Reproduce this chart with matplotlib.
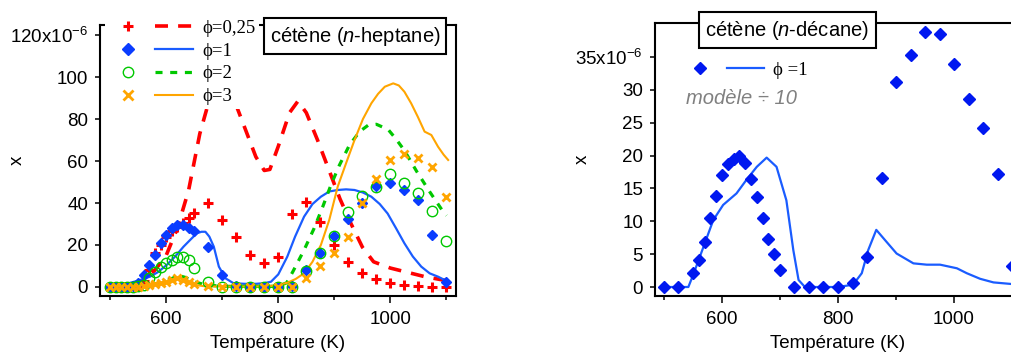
"""Cetene mole fraction vs temperature: n-heptane and n-decane panels."""

import matplotlib

matplotlib.use("Agg")

import matplotlib.pyplot as plt
from matplotlib.lines import Line2D
from matplotlib.legend_handler import HandlerTuple
from matplotlib.ticker import FuncFormatter, FixedLocator


plt.rcParams["font.family"] = "Liberation Sans"
plt.rcParams["mathtext.fontset"] = "custom"
plt.rcParams["mathtext.rm"] = "Liberation Sans"
plt.rcParams["mathtext.it"] = "Liberation Sans:italic"
plt.rcParams["mathtext.default"] = "regular"

# ---- n-heptane panel: experiments (x 1e-6) ----
T_EXP = [500, 510, 520, 530, 540, 550, 560, 570, 580, 590, 600, 610, 620, 630, 640, 650,
         675, 700, 725, 750, 775, 800, 825, 850, 875, 900, 925, 950, 975, 1000, 1025,
         1050, 1075, 1100]
phi1_exp = [0, 0, 0, 0, 0.5, 2, 5.7, 10.5, 15, 20.8, 24.8, 27.9, 29.3, 29.5, 28, 26.5,
            19.2, 5.8, 0.5, 0, 0, 0.2, 0.5, 8, 16, 24.3, 32.4, 40, 48, 49.4, 46,
            41.5, 24.8, 2.4]
phi2_exp = [0, 0, 0, 0, 0, 0.3, 1, 4.5, 7, 9.7, 11.6, 12.9, 14.4, 14.4, 12.9, 8.9,
            2.5, 0.2, 0.2, 0.1, 0.1, 0, 0, 7.8, 16, 24.3, 35.9, 43.3, 47.8, 53.8, 49.7,
            44.6, 36.3, 22]
phi3_exp = [0, 0, 0, 0, 0, 0.2, 0.5, 0.8, 1.2, 1.8, 2.5, 3.5, 4.5, 3.5, 2.5, 1.5,
            0.3, 0, 0, 0, 0, 0, 0, 4.1, 10, 16, 24, 40.2, 51.3, 60.5, 63.3,
            61.3, 57, 43]

T_EXP_025 = [500, 525, 550, 560, 570, 580, 590, 600, 610, 620, 630, 640, 650, 675, 700,
             725, 750, 775, 800, 825, 850, 875, 900, 925, 950, 975, 1000, 1025, 1050,
             1075, 1100]
phi025_exp = [0, 0, 0.5, 3, 8, 16, 20, 24, 26.5, 28.5, 30.5, 32.7, 35.4, 40.2, 32,
              24, 15.2, 11.3, 14.4, 35, 40.6, 31, 20, 11.7, 6.8, 4, 2, 1, 0.5,
              0.2, 0]

# ---- n-heptane panel: model ----
T_MOD_025 = [500, 540, 560, 580, 600, 620, 640, 660, 680, 700, 720, 740, 760, 775, 785,
             800, 820, 835, 850, 870, 890, 910, 930, 950, 970, 1000, 1030, 1060, 1100]
phi025_mod = [0, 0.5, 3, 8, 15, 28, 46, 73, 92, 97, 90, 76, 62, 55.5, 56,
              67, 83, 88.5, 83, 70, 56, 42, 30, 19, 12, 9, 7, 5, 3]

T_MOD_1 = [500, 520, 536, 550, 571, 585, 601, 616, 631, 645, 655, 663, 670, 677, 685,
           694, 706, 720, 740, 760, 775, 787, 800, 816, 830, 846, 861, 876, 891, 906,
           921, 936, 951, 966, 981, 995, 1010, 1025, 1040, 1055, 1070, 1085, 1103]
phi1_mod = [0.3, 0.5, 2, 3, 4.9, 7, 10.5, 14.5, 19.2, 23, 25.6, 26.3, 26.3, 24, 19.2,
            9.7, 4.1, 1.8, 1.5, 1.5, 1.8, 2.5, 6, 14.4, 24, 33.5, 39.5, 43, 45.5, 46.2,
            46.5, 46.2, 45, 43, 39.5, 35, 28, 20.8, 14.5, 9.7, 6.5, 4.9, 2.5]

T_MOD_2 = [500, 560, 590, 610, 622, 635, 650, 670, 700, 750, 800, 815, 826, 846, 864,
           879, 894, 909, 927, 945, 960, 975, 996, 1010, 1025, 1047, 1070, 1094, 1100]
phi2_mod = [0, 0.5, 2, 4, 5.5, 4.5, 2.5, 1, 0.3, 0.3, 0.3, 2, 7.3, 17.6, 28,
            38, 48.6, 58, 67.6, 74, 77, 77.5, 75, 70.5, 65, 55, 45.4, 35.9, 34]

T_MOD_3 = [500, 560, 590, 610, 622, 635, 650, 670, 700, 750, 782, 800, 816, 831, 846,
           861, 876, 891, 906, 921, 936, 951, 966, 978, 990, 1005, 1015, 1025, 1037,
           1049, 1061, 1073, 1085, 1095, 1103]
phi3_mod = [0, 0.3, 1.5, 3, 4.5, 3, 1, 0.3, 0.2, 0.2, 0.3, 1, 2, 3.8, 6.5,
            12, 20, 32, 47.8, 59, 70, 80, 87.5, 92, 95.4, 97, 96, 93, 87.5,
            81, 74, 72.4, 66.8, 63, 60.5]

# ---- n-decane panel ----
T_DEC_EXP = [500, 525, 550, 560, 570, 580, 590, 600, 610, 620, 630, 640, 650, 660, 670,
             680, 690, 700, 725, 750, 775, 800, 825, 850, 875, 900, 925, 950, 975, 1000,
             1025, 1050, 1075, 1100]
dec_exp = [0, 0, 2.1, 4.1, 6.9, 10.45, 13.85, 17.05, 18.7, 19.5, 20.0, 18.9, 16.4, 13.65,
           10.55, 7.35, 5.0, 2.6, 0, 0, 0, 0, 0.66, 4.5, 16.6, 31.2, 35.4, 38.8, 38.45,
           33.9, 28.7, 24.2, 17.2, 3.25]

T_DEC_MOD = [500, 542, 551, 568, 585, 602, 625, 642, 660, 677, 694, 711, 723, 732, 743,
             800, 826, 841, 852, 866, 881, 901, 930, 953, 976, 1005, 1022, 1045, 1068, 1100]
dec_mod = [0, 0, 2, 6.1, 10.2, 12.5, 14.25, 16.3, 18.3, 19.7, 18.3, 13.2, 5.6, 1.07, 0,
           0, 0.35, 2.1, 5.6, 8.7, 7.15, 5.1, 3.6, 3.4, 3.4, 2.85, 2.1, 1.25, 0.7, 0.45]

HEPTANE_YTICKS = [0, 20, 40, 60, 80, 100, 120]
DECANE_YTICKS = [0, 5, 10, 15, 20, 25, 30, 35]
PHI = "\u03d5"

RED = "#ff0000"
BLUE_MK = "#0a3cff"
BLUE_LN = "#1a5cff"
BLUE_DEC = "#0018f0"
GREEN = "#00c800"
ORANGE = "#ffa500"

FS = 13.5
W, H = 1012, 353


def px_box(x0, y0, x1, y1):
    """Figure-fraction rect from pixel corners (top-left origin)."""
    return [x0 / W, 1 - y1 / H, (x1 - x0) / W, (y1 - y0) / H]


def style_axes(ax, yticks):
    for side in ["left", "bottom", "top", "right"]:
        ax.spines[side].set_linewidth(1.5)
    ax.xaxis.set_major_locator(FixedLocator([600, 800, 1000]))
    ax.xaxis.set_minor_locator(FixedLocator([500, 700, 900, 1100]))
    ax.yaxis.set_major_locator(FixedLocator(yticks))
    ax.tick_params(axis="x", which="major", direction="out", length=5, width=1.1,
                   labelsize=FS, pad=6, top=False)
    ax.tick_params(axis="x", which="minor", direction="out", length=3, width=1.1, top=False)
    ax.tick_params(axis="y", which="major", direction="out", length=3.6, width=1.1,
                   labelsize=FS, pad=5, right=False)
    top = yticks[-1]

    def fmt(v, _pos):
        if abs(v - top) < 1e-6:
            return f"{v:.0f}x10$^{{-6}}$"
        return f"{v:.0f}"

    ax.yaxis.set_major_formatter(FuncFormatter(fmt))
    ax.set_xlabel("Température (K)", fontsize=FS, labelpad=5)
    ax.set_ylabel("x", fontsize=FS)


def white_legend(ax, handles, labels, anchor, pad, handlelength, spacing=0.3):
    leg = ax.legend(handles, labels, handler_map={tuple: HandlerTuple(ndivide=None, pad=pad)},
                    loc="upper left", bbox_to_anchor=anchor, bbox_transform=fig.transFigure,
                    prop={"family": "Liberation Serif", "size": FS},
                    handlelength=handlelength, handletextpad=0.48, labelspacing=spacing,
                    borderpad=0.2, borderaxespad=0, frameon=True, fancybox=False,
                    framealpha=1)
    leg.get_frame().set_edgecolor("none")
    leg.get_frame().set_facecolor("white")
    return leg


fig = plt.figure(figsize=(W / 100, H / 100), dpi=100)

# ================= left: n-heptane =================
ax1 = fig.add_axes(px_box(100, 25, 456, 296))
ax1.plot(T_MOD_025, phi025_mod, color=RED, lw=2.6, ls=(0, (3.6, 2.8)))
ax1.plot(T_MOD_1, phi1_mod, color=BLUE_LN, lw=1.6)
ax1.plot(T_MOD_2, phi2_mod, color=GREEN, lw=2.3, ls=(0, (2.2, 2.4)))
ax1.plot(T_MOD_3, phi3_mod, color=ORANGE, lw=1.5)
ax1.plot(T_EXP_025, phi025_exp, ls="none", marker="+", ms=7, mew=2.2, color=RED)
ax1.plot(T_EXP, phi1_exp, ls="none", marker="D", ms=5, color=BLUE_MK)
ax1.plot(T_EXP, phi2_exp, ls="none", marker="o", ms=7.5, mfc="none", mew=1.0, color=GREEN)
ax1.plot(T_EXP, phi3_exp, ls="none", marker="x", ms=6, mew=2.0, color=ORANGE)
ax1.set_xlim(482, 1117)
ax1.set_ylim(-4.3, 124.8)
style_axes(ax1, HEPTANE_YTICKS)
ax1.yaxis.set_label_coords(-0.208, 0.5)

handles = [
    (Line2D([], [], ls="none", marker="+", ms=7, mew=2.2, color=RED),
     Line2D([], [], color=RED, lw=2.6, ls=(0, (3.6, 2.8)))),
    (Line2D([], [], ls="none", marker="D", ms=6, color=BLUE_MK),
     Line2D([], [], color=BLUE_LN, lw=1.6)),
    (Line2D([], [], ls="none", marker="o", ms=7.5, mfc="none", mew=1.0, color=GREEN),
     Line2D([], [], color=GREEN, lw=2.3, ls=(0, (2.2, 2.4)))),
    (Line2D([], [], ls="none", marker="x", ms=6.5, mew=2.0, color=ORANGE),
     Line2D([], [], color=ORANGE, lw=1.5)),
]
labels = [f"{PHI}=0,25", f"{PHI}=1", f"{PHI}=2", f"{PHI}=3"]
white_legend(ax1, handles, labels, (105 / W, 1 - 16 / H), 0.43, 4.5)

fig.text(355 / W, 1 - 36 / H, r"cétène ($\it{n}$-heptane)", ha="center", va="center",
         fontsize=14.5,
         bbox=dict(boxstyle="square,pad=0.3", fc="white", ec="black", lw=1.5))

# ================= right: n-decane =================
ax2 = fig.add_axes(px_box(655, 23, 1021, 296))
ax2.plot(T_DEC_MOD, dec_mod, color=BLUE_LN, lw=1.6)
ax2.plot(T_DEC_EXP, dec_exp, ls="none", marker="D", ms=6, color=BLUE_DEC)
ax2.set_xlim(484.5, 1115.5)
ax2.set_ylim(-1.37, 40.2)
style_axes(ax2, DECANE_YTICKS)
ax2.yaxis.set_label_coords(-0.175, 0.5)

handles2 = [(Line2D([], [], ls="none", marker="D", ms=6.5, color=BLUE_DEC),
             Line2D([], [], color=BLUE_LN, lw=1.6))]
white_legend(ax2, handles2, [f"{PHI} =1"], (678 / W, 1 - 58 / H), 0.48, 4.4)

fig.text(686 / W, 1 - 98 / H, "modèle ÷ 10", ha="left", va="center", fontsize=14.5,
         style="italic", color="#808080")

fig.text(787.5 / W, 1 - 30 / H, r"cétène ($\it{n}$-décane)", ha="center", va="center",
         fontsize=14.5,
         bbox=dict(boxstyle="square,pad=0.3", fc="white", ec="black", lw=1.5))

fig.savefig("out.png", dpi=100)
